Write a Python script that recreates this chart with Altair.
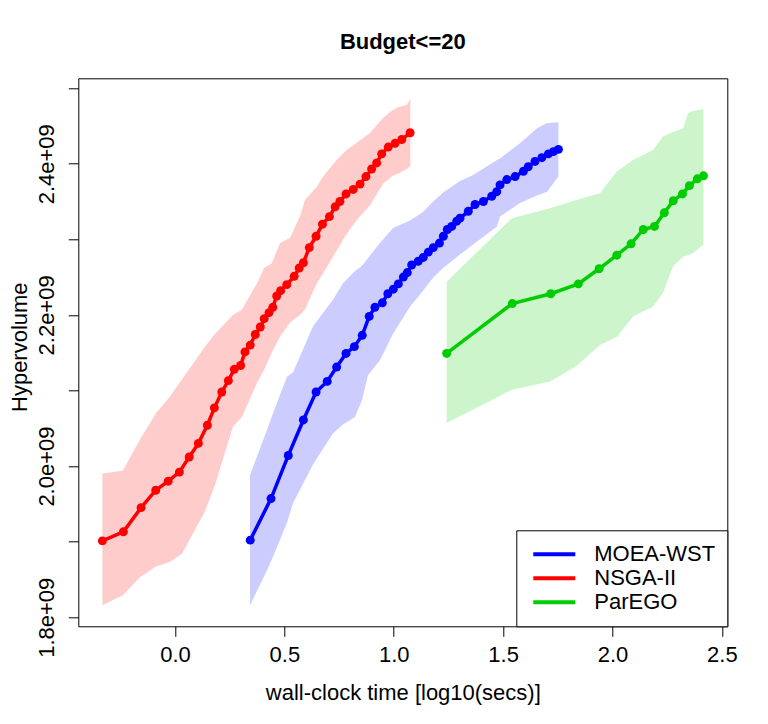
import altair as alt
import pandas as pd

# ---- data (x: log10 secs, y: hypervolume in 1e9) ----
series_names = ["MOEA-WST", "NSGA-II", "ParEGO"]
line_colors = ["#0000FF", "#FF0000", "#00CD00"]

nsga_x = [-0.332, -0.236, -0.155, -0.088, -0.031, 0.020, 0.065, 0.107, 0.148, 0.180,
          0.214, 0.244, 0.271, 0.300, 0.320, 0.344, 0.367, 0.390, 0.408, 0.430,
          0.447, 0.465, 0.483, 0.511, 0.545, 0.568, 0.587, 0.614, 0.645, 0.674,
          0.706, 0.732, 0.754, 0.782, 0.815, 0.846, 0.873, 0.899, 0.922, 0.945,
          0.975, 1.006, 1.037, 1.075]
nsga_y = [1.901, 1.913, 1.945, 1.968, 1.980, 1.992, 2.012, 2.030, 2.054, 2.077,
          2.098, 2.113, 2.128, 2.133, 2.151, 2.160, 2.174, 2.184, 2.195, 2.203,
          2.210, 2.225, 2.232, 2.240, 2.251, 2.262, 2.269, 2.289, 2.304, 2.320,
          2.330, 2.343, 2.350, 2.360, 2.366, 2.373, 2.383, 2.393, 2.401, 2.413,
          2.422, 2.427, 2.432, 2.441]

moea_x = [0.344, 0.439, 0.518, 0.587, 0.645, 0.696, 0.739, 0.782, 0.820, 0.856,
          0.888, 0.914, 0.948, 0.973, 0.998, 1.021, 1.044, 1.062, 1.082, 1.112,
          1.135, 1.158, 1.181, 1.209, 1.227, 1.245, 1.265, 1.288, 1.303, 1.341,
          1.372, 1.410, 1.448, 1.471, 1.486, 1.517, 1.555, 1.593, 1.615, 1.646,
          1.677, 1.707, 1.730, 1.753]
moea_y = [1.902, 1.957, 2.014, 2.061, 2.098, 2.112, 2.131, 2.149, 2.158, 2.173,
          2.198, 2.210, 2.216, 2.228, 2.234, 2.241, 2.250, 2.256, 2.266, 2.271,
          2.276, 2.283, 2.289, 2.295, 2.304, 2.313, 2.317, 2.324, 2.328, 2.337,
          2.346, 2.350, 2.357, 2.363, 2.372, 2.379, 2.383, 2.390, 2.396, 2.403,
          2.408, 2.413, 2.416, 2.419]

parego_x = [1.242, 1.542, 1.718, 1.844, 1.939, 2.020, 2.085, 2.141, 2.192, 2.237,
            2.278, 2.320, 2.352, 2.388, 2.416]
parego_y = [2.149, 2.215, 2.228, 2.241, 2.261, 2.279, 2.294, 2.313, 2.317, 2.335,
            2.351, 2.360, 2.371, 2.380, 2.384]

# uncertainty bands (x, lower, upper)
nsga_band_x = [-0.332, -0.238, -0.160, -0.087, -0.023, 0.032, 0.137, 0.183, 0.265, 0.306,
               0.375, 0.407, 0.442, 0.480, 0.526, 0.571, 0.594, 0.649, 0.677, 0.739,
               0.785, 0.832, 0.892, 0.953, 0.991, 1.014, 1.060, 1.076]
nsga_lo = [1.816, 1.829, 1.853, 1.867, 1.873, 1.884, 1.940, 1.975, 2.052, 2.065,
           2.110, 2.127, 2.150, 2.171, 2.190, 2.200, 2.207, 2.242, 2.255, 2.285,
           2.307, 2.326, 2.345, 2.374, 2.383, 2.386, 2.393, 2.397]
nsga_hi = [1.990, 1.994, 2.035, 2.070, 2.092, 2.115, 2.158, 2.175, 2.200, 2.207,
           2.242, 2.262, 2.268, 2.295, 2.302, 2.330, 2.352, 2.370, 2.383, 2.405,
           2.418, 2.428, 2.441, 2.461, 2.470, 2.474, 2.478, 2.486]

moea_band_x = [0.343, 0.421, 0.448, 0.512, 0.540, 0.631, 0.722, 0.768, 0.823, 0.855,
               0.882, 0.937, 0.997, 1.075, 1.134, 1.180, 1.226, 1.303, 1.363, 1.472,
               1.486, 1.577, 1.655, 1.701, 1.753]
moea_lo = [1.816, 1.862, 1.880, 1.925, 1.951, 2.002, 2.043, 2.055, 2.065, 2.087,
           2.120, 2.140, 2.175, 2.211, 2.232, 2.249, 2.262, 2.280, 2.293, 2.317,
           2.330, 2.348, 2.358, 2.363, 2.383]
moea_hi = [1.988, 2.048, 2.070, 2.118, 2.124, 2.185, 2.220, 2.242, 2.258, 2.265,
           2.275, 2.295, 2.315, 2.325, 2.336, 2.350, 2.362, 2.377, 2.385, 2.405,
           2.407, 2.427, 2.447, 2.454, 2.455]

parego_band_x = [1.242, 1.540, 1.715, 1.834, 1.943, 2.021, 2.094, 2.186, 2.231, 2.277,
                 2.323, 2.346, 2.369, 2.416]
parego_lo = [2.057, 2.101, 2.112, 2.132, 2.160, 2.171, 2.198, 2.211, 2.229, 2.264,
             2.277, 2.279, 2.282, 2.293]
parego_hi = [2.244, 2.328, 2.341, 2.352, 2.361, 2.390, 2.405, 2.418, 2.436, 2.442,
             2.447, 2.467, 2.470, 2.472]

x_ticks = [0.0, 0.5, 1.0, 1.5, 2.0, 2.5]
y_ticks = [1.8e9, 1.9e9, 2.0e9, 2.1e9, 2.2e9, 2.3e9, 2.4e9, 2.5e9]

# ---- build tables ----
def line_frame(name, xs, ys):
    return pd.DataFrame({"series": name, "x": xs, "y": [v * 1e9 for v in ys]})

def band_frame(name, xs, lo, hi):
    return pd.DataFrame({"series": name, "x": xs,
                         "lo": [v * 1e9 for v in lo], "hi": [v * 1e9 for v in hi]})

lines = pd.concat([
    line_frame("MOEA-WST", moea_x, moea_y),
    line_frame("NSGA-II", nsga_x, nsga_y),
    line_frame("ParEGO", parego_x, parego_y),
], ignore_index=True)

bands = pd.concat([
    band_frame("MOEA-WST", moea_band_x, moea_lo, moea_hi),
    band_frame("NSGA-II", nsga_band_x, nsga_lo, nsga_hi),
    band_frame("ParEGO", parego_band_x, parego_lo, parego_hi),
], ignore_index=True)

FONT = "Liberation Sans"

x_scale = alt.Scale(domain=[-0.442, 2.525], nice=False, zero=False)
y_scale = alt.Scale(domain=[1.788e9, 2.513e9], nice=False, zero=False)

x_axis = alt.Axis(
    title="wall-clock time [log10(secs)]", values=x_ticks, format=".1f",
    grid=False, domain=False, tickColor="black", tickSize=10, tickWidth=1,
    labelFont=FONT, labelFontSize=22, labelColor="black",
    labelBaseline="alphabetic", labelPadding=25, labelFlush=False,
    titleFont=FONT, titleFontSize=22, titleFontWeight="normal", titleColor="black",
    titleBaseline="alphabetic", titleY=73, titleX=324.5, titleAlign="center",
)
y_axis = alt.Axis(
    title="Hypervolume", values=y_ticks,
    labelExpr="(round(datum.value/1e8) % 2 == 0) ? format(datum.value/1e9, '.1f') + 'e+09' : ''",
    grid=False, domain=False, tickColor="black", tickSize=10, tickWidth=1,
    labelFont=FONT, labelFontSize=22, labelColor="black",
    labelAngle=270, labelAlign="center", labelBaseline="alphabetic",
    labelPadding=15, labelFlush=False, labelOverlap=False,
    titleFont=FONT, titleFontSize=22, titleFontWeight="normal", titleColor="black",
    titleAngle=270, titleBaseline="alphabetic", titleAlign="center",
    titleX=-52, titleY=268.4,
)

color_scale = alt.Scale(domain=series_names, range=line_colors)

legend = alt.Legend(
    title=None, orient="bottom-right", offset=0,
    symbolType="stroke", symbolStrokeWidth=4, symbolSize=1764,
    symbolOpacity=1,
    labelFont=FONT, labelFontSize=22, labelColor="black", labelOffset=17,
    padding=12, symbolOffset=3, clipHeight=24, rowPadding=0,
    strokeColor="black", fillColor="white", cornerRadius=0,
)

area = alt.Chart(bands).mark_area(opacity=0.2).encode(
    x=alt.X("x:Q", scale=x_scale, axis=x_axis),
    y=alt.Y("lo:Q", scale=y_scale, axis=y_axis, stack=None),
    y2="hi:Q",
    color=alt.Color("series:N", scale=color_scale, legend=legend),
)

line = alt.Chart(lines).mark_line(strokeWidth=3.5).encode(
    x=alt.X("x:Q", scale=x_scale),
    y=alt.Y("y:Q", scale=y_scale),
    color=alt.Color("series:N", scale=color_scale, legend=legend),
)

pts = alt.Chart(lines).mark_circle(size=80, opacity=1).encode(
    x=alt.X("x:Q", scale=x_scale),
    y=alt.Y("y:Q", scale=y_scale),
    color=alt.Color("series:N", scale=color_scale, legend=legend),
)

chart = alt.layer(area, line, pts).properties(
    width=649, height=548,
    title=alt.TitleParams("Budget<=20", font=FONT, fontSize=22, fontWeight="bold",
                          color="black", anchor="middle", baseline="alphabetic",
                          frame="group", offset=7),
    autosize=alt.AutoSizeParams(type="none"),
    padding={"left": 70.3, "top": 70.3, "right": 30, "bottom": 88},
    background="white",
).configure_view(stroke="black", strokeWidth=1)

chart.save("out.html", embed_options={"renderer": "svg", "actions": False})
